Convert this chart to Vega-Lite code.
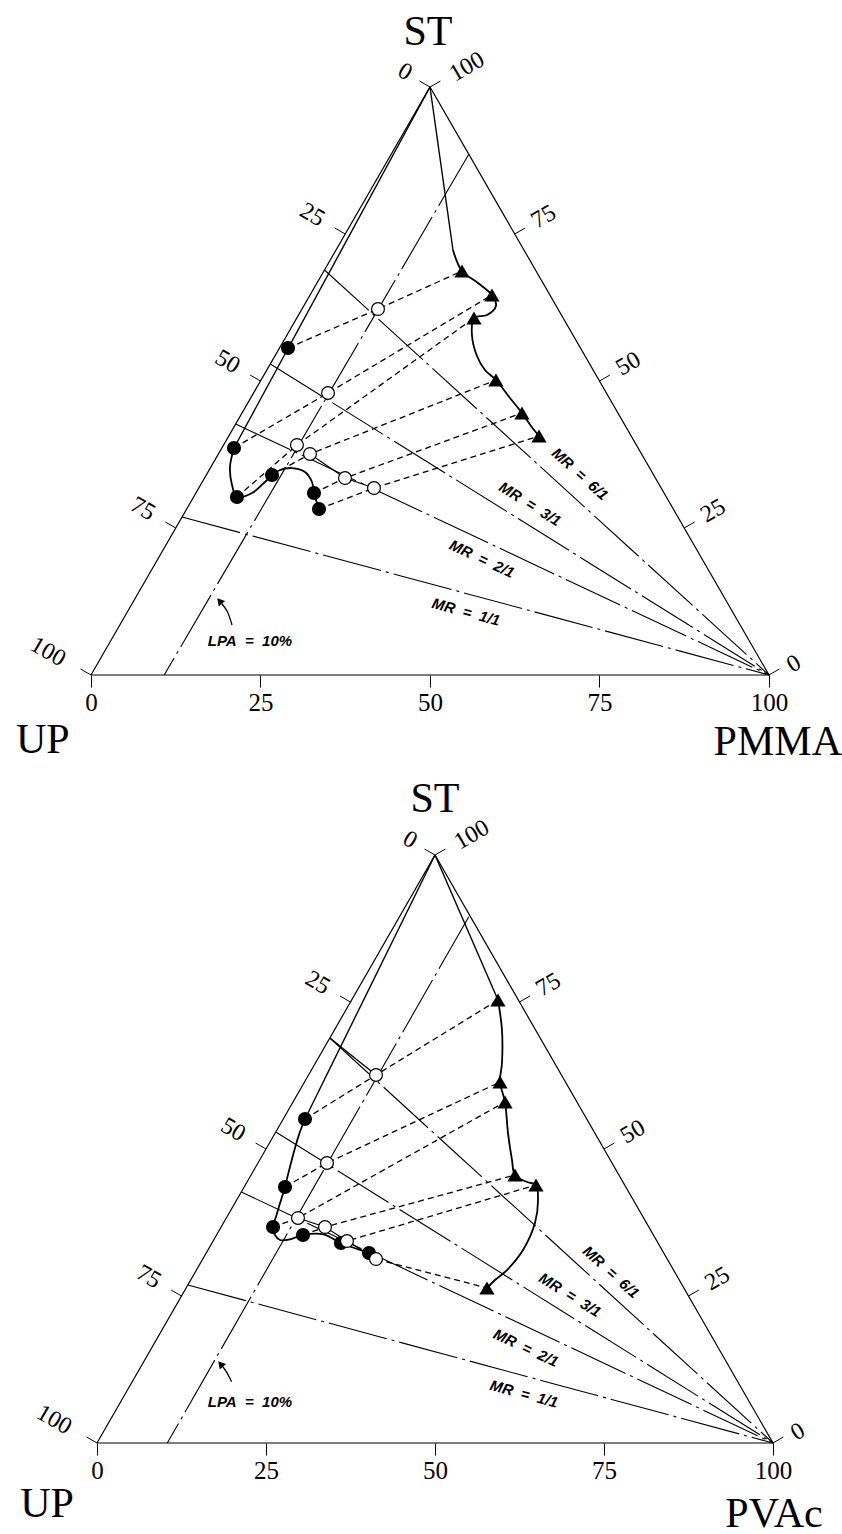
{
"$schema":"https://vega.github.io/schema/vega-lite/v6.json",
"padding":0,
"spacing":92,
"bounds":"flush",
"background":"white",
"config":{"view":{"stroke":null}},
"datasets":{
"top":[
{"kind":"outline","ord":1,"u":0,"v":0},{"kind":"outline","ord":2,"u":100,"v":0},{"kind":"outline","ord":3,"u":50,"v":100},{"kind":"outline","ord":4,"u":0,"v":0},
{"kind":"tick","u":50,"v":100,"u2":48.46,"v2":101.02},{"kind":"tick","u":37.5,"v":75,"u2":35.96,"v2":76.02},{"kind":"tick","u":25,"v":50,"u2":23.46,"v2":51.02},{"kind":"tick","u":12.5,"v":25,"u2":10.96,"v2":26.02},{"kind":"tick","u":0,"v":0,"u2":-1.54,"v2":1.02},
{"kind":"tick","u":100,"v":0,"u2":101.54,"v2":1.02},{"kind":"tick","u":87.5,"v":25,"u2":89.04,"v2":26.02},{"kind":"tick","u":75,"v":50,"u2":76.54,"v2":51.02},{"kind":"tick","u":62.5,"v":75,"u2":64.04,"v2":76.02},{"kind":"tick","u":50,"v":100,"u2":51.54,"v2":101.02},
{"kind":"ll","label":"0","u":46.3,"v":102.55},{"kind":"ll","label":"25","u":32.63,"v":78.23},{"kind":"ll","label":"50","u":20.13,"v":53.23},{"kind":"ll","label":"75","u":7.63,"v":28.23},{"kind":"ll","label":"100","u":-6.35,"v":3.91},
{"kind":"rl","label":"0","u":103.69,"v":1.87},{"kind":"rl","label":"25","u":91.78,"v":27.89},{"kind":"rl","label":"50","u":79.28,"v":52.89},{"kind":"rl","label":"75","u":66.78,"v":77.89},{"kind":"rl","label":"100","u":55.46,"v":103.4},
{"kind":"corner","label":"ST","u":49.7,"v":109.4},{"kind":"corner","label":"UP","u":-7.1,"v":-11.0},{"kind":"corner","label":"PMMA","u":101.3,"v":-11.4},
{"kind":"mr","u":34.44,"v":68.88,"u2":100,"v2":0},{"kind":"mr","u":26.45,"v":52.89,"u2":100,"v2":0},{"kind":"mr","u":21.34,"v":42.69,"u2":100,"v2":0},{"kind":"mr","u":13.44,"v":26.87,"u2":100,"v2":0},
{"kind":"lpa","u":55.75,"v":88.6,"u2":10.8,"v2":0},
{"kind":"segl","ord":1,"u":32.30,"v":37.59},{"kind":"segl","ord":2,"u":37.46,"v":33.50},{"kind":"segl","ord":3,"u":41.74,"v":31.80},
{"kind":"tie","id":1,"ord":1,"u":29.06,"v":55.61},{"kind":"tie","id":1,"ord":2,"u":42.33,"v":62.24},{"kind":"tie","id":1,"ord":3,"u":54.72,"v":68.71},
{"kind":"tie","id":2,"ord":1,"u":21.09,"v":38.61},{"kind":"tie","id":2,"ord":2,"u":34.96,"v":47.96},{"kind":"tie","id":2,"ord":3,"u":59.14,"v":64.63},
{"kind":"tie","id":3,"ord":1,"u":21.53,"v":30.27},{"kind":"tie","id":3,"ord":2,"u":30.38,"v":39.12},{"kind":"tie","id":3,"ord":3,"u":56.49,"v":60.71},
{"kind":"tie","id":4,"ord":1,"u":26.70,"v":34.01},{"kind":"tie","id":4,"ord":2,"u":32.30,"v":37.59},{"kind":"tie","id":4,"ord":3,"u":59.73,"v":50.17},
{"kind":"tie","id":5,"ord":1,"u":32.89,"v":30.95},{"kind":"tie","id":5,"ord":2,"u":37.46,"v":33.50},{"kind":"tie","id":5,"ord":3,"u":63.57,"v":44.56},
{"kind":"tie","id":6,"ord":1,"u":33.63,"v":28.23},{"kind":"tie","id":6,"ord":2,"u":41.74,"v":31.80},{"kind":"tie","id":6,"ord":3,"u":66.08,"v":40.65},
{"kind":"upline","u":50,"v":100,"u2":21.09,"v2":38.61},
{"kind":"upc","ord":1,"u":21.09,"v":38.61},{"kind":"upc","ord":2,"u":20.50,"v":35.37},{"kind":"upc","ord":3,"u":20.80,"v":32.31},{"kind":"upc","ord":4,"u":21.53,"v":30.27},{"kind":"upc","ord":5,"u":23.75,"v":30.95},{"kind":"upc","ord":6,"u":25.66,"v":32.82},{"kind":"upc","ord":7,"u":26.70,"v":34.01},{"kind":"upc","ord":8,"u":27.88,"v":34.86},{"kind":"upc","ord":9,"u":29.65,"v":35.20},{"kind":"upc","ord":10,"u":31.56,"v":34.52},{"kind":"upc","ord":11,"u":32.60,"v":32.82},{"kind":"upc","ord":12,"u":32.89,"v":30.95},{"kind":"upc","ord":13,"u":33.63,"v":28.23},
{"kind":"pmline","u":50,"v":100,"u2":53.39,"v2":72.28},
{"kind":"pmc","ord":1,"u":53.39,"v":72.28},{"kind":"pmc","ord":2,"u":54.72,"v":68.71},{"kind":"pmc","ord":3,"u":57.08,"v":66.67},{"kind":"pmc","ord":4,"u":59.14,"v":64.63},{"kind":"pmc","ord":5,"u":59.73,"v":62.76},{"kind":"pmc","ord":6,"u":58.41,"v":61.22},{"kind":"pmc","ord":7,"u":56.49,"v":60.71},{"kind":"pmc","ord":8,"u":56.19,"v":57.82},{"kind":"pmc","ord":9,"u":56.93,"v":54.25},{"kind":"pmc","ord":10,"u":58.11,"v":51.87},{"kind":"pmc","ord":11,"u":59.73,"v":50.17},{"kind":"pmc","ord":12,"u":61.80,"v":47.11},{"kind":"pmc","ord":13,"u":63.57,"v":44.56},{"kind":"pmc","ord":14,"u":64.90,"v":42.35},{"kind":"pmc","ord":15,"u":66.08,"v":40.65},
{"kind":"arr","ord":1,"u":20.80,"v":8.50},{"kind":"arr","ord":2,"u":20.06,"v":10.88},{"kind":"arr","ord":3,"u":18.97,"v":12.59},
{"kind":"ah","u":18.97,"v":12.59},
{"kind":"mr6l","label":"MR\u00a0 =\u00a0 6/1","u":72.12,"v":34.18},{"kind":"mr3l","label":"MR\u00a0 =\u00a0 3/1","u":64.75,"v":29.08},{"kind":"mr2l","label":"MR\u00a0 =\u00a0 2/1","u":57.67,"v":19.73},{"kind":"mr1l","label":"MR\u00a0 =\u00a0 1/1","u":55.31,"v":10.71},
{"kind":"lpal","label":"LPA\u00a0 =\u00a0 10%","u":23.45,"v":5.78}
],
"bot":[
{"kind":"outline","ord":1,"u":0,"v":0},{"kind":"outline","ord":2,"u":100,"v":0},{"kind":"outline","ord":3,"u":50,"v":100},{"kind":"outline","ord":4,"u":0,"v":0},
{"kind":"tick","u":50,"v":100,"u2":48.46,"v2":101.02},{"kind":"tick","u":37.5,"v":75,"u2":35.96,"v2":76.02},{"kind":"tick","u":25,"v":50,"u2":23.46,"v2":51.02},{"kind":"tick","u":12.5,"v":25,"u2":10.96,"v2":26.02},{"kind":"tick","u":0,"v":0,"u2":-1.54,"v2":1.02},
{"kind":"tick","u":100,"v":0,"u2":101.54,"v2":1.02},{"kind":"tick","u":87.5,"v":25,"u2":89.04,"v2":26.02},{"kind":"tick","u":75,"v":50,"u2":76.54,"v2":51.02},{"kind":"tick","u":62.5,"v":75,"u2":64.04,"v2":76.02},{"kind":"tick","u":50,"v":100,"u2":51.54,"v2":101.02},
{"kind":"ll","label":"0","u":46.3,"v":102.55},{"kind":"ll","label":"25","u":32.63,"v":78.23},{"kind":"ll","label":"50","u":20.13,"v":53.23},{"kind":"ll","label":"75","u":7.63,"v":28.23},{"kind":"ll","label":"100","u":-6.35,"v":3.91},
{"kind":"rl","label":"0","u":103.69,"v":1.87},{"kind":"rl","label":"25","u":91.78,"v":27.89},{"kind":"rl","label":"50","u":79.28,"v":52.89},{"kind":"rl","label":"75","u":66.78,"v":77.89},{"kind":"rl","label":"100","u":55.46,"v":103.4},
{"kind":"corner","label":"ST","u":50.0,"v":109.6},{"kind":"corner","label":"UP","u":-7.4,"v":-10.4},{"kind":"corner","label":"PVAc","u":100.15,"v":-12.0},
{"kind":"mr","u":34.44,"v":68.88,"u2":100,"v2":0},{"kind":"mr","u":26.45,"v":52.89,"u2":100,"v2":0},{"kind":"mr","u":21.34,"v":42.69,"u2":100,"v2":0},{"kind":"mr","u":13.44,"v":26.87,"u2":100,"v2":0},
{"kind":"lpa","u":55.0,"v":89.5,"u2":10.4,"v2":0},
{"kind":"seg","u":34.44,"v":68.88,"u2":41.27,"v2":62.59},
{"kind":"segl","ord":1,"u":29.73,"v":38.27},{"kind":"segl","ord":2,"u":33.73,"v":36.73},{"kind":"segl","ord":3,"u":36.98,"v":34.35},{"kind":"segl","ord":4,"u":41.27,"v":31.29},
{"kind":"tie","id":1,"ord":1,"u":30.77,"v":55.10},{"kind":"tie","id":1,"ord":2,"u":41.27,"v":62.59},{"kind":"tie","id":1,"ord":3,"u":59.32,"v":75.34},
{"kind":"tie","id":2,"ord":1,"u":27.81,"v":43.54},{"kind":"tie","id":2,"ord":2,"u":34.02,"v":47.62},{"kind":"tie","id":2,"ord":3,"u":59.62,"v":61.39},
{"kind":"tie","id":3,"ord":1,"u":26.04,"v":36.73},{"kind":"tie","id":3,"ord":2,"u":29.73,"v":38.27},{"kind":"tie","id":3,"ord":3,"u":60.36,"v":57.99},
{"kind":"tie","id":4,"ord":1,"u":30.47,"v":35.37},{"kind":"tie","id":4,"ord":2,"u":33.73,"v":36.73},{"kind":"tie","id":4,"ord":3,"u":61.83,"v":45.58},
{"kind":"tie","id":5,"ord":1,"u":36.09,"v":34.01},{"kind":"tie","id":5,"ord":2,"u":36.98,"v":34.35},{"kind":"tie","id":5,"ord":3,"u":64.94,"v":43.88},
{"kind":"tie","id":6,"ord":1,"u":40.24,"v":32.31},{"kind":"tie","id":6,"ord":2,"u":41.27,"v":31.29},{"kind":"tie","id":6,"ord":3,"u":57.69,"v":26.36},
{"kind":"upline","u":50,"v":100,"u2":30.77,"v2":55.10},
{"kind":"upc","ord":1,"u":30.77,"v":55.10},{"kind":"upc","ord":2,"u":29.78,"v":52.09},{"kind":"upc","ord":3,"u":28.30,"v":45.86},{"kind":"upc","ord":4,"u":27.81,"v":43.54},{"kind":"upc","ord":5,"u":27.07,"v":40.76},{"kind":"upc","ord":6,"u":26.48,"v":38.49},{"kind":"upc","ord":7,"u":26.04,"v":36.73},{"kind":"upc","ord":8,"u":26.33,"v":35.37},{"kind":"upc","ord":9,"u":27.07,"v":34.52},{"kind":"upc","ord":10,"u":28.55,"v":34.64},{"kind":"upc","ord":11,"u":30.47,"v":35.37},{"kind":"upc","ord":12,"u":33.48,"v":35.49},{"kind":"upc","ord":13,"u":36.09,"v":34.01},{"kind":"upc","ord":14,"u":40.24,"v":32.31},
{"kind":"pmline","u":50,"v":100,"u2":59.32,"v2":75.34},
{"kind":"pmc","ord":1,"u":59.32,"v":75.34},{"kind":"pmc","ord":2,"u":59.91,"v":70.24},{"kind":"pmc","ord":3,"u":59.91,"v":64.63},{"kind":"pmc","ord":4,"u":59.62,"v":61.39},{"kind":"pmc","ord":5,"u":60.36,"v":57.99},{"kind":"pmc","ord":6,"u":60.80,"v":52.72},{"kind":"pmc","ord":7,"u":61.39,"v":48.13},{"kind":"pmc","ord":8,"u":61.83,"v":45.58},{"kind":"pmc","ord":9,"u":63.61,"v":44.39},{"kind":"pmc","ord":10,"u":64.94,"v":43.88},{"kind":"pmc","ord":11,"u":65.24,"v":41.33},{"kind":"pmc","ord":12,"u":64.79,"v":37.41},{"kind":"pmc","ord":13,"u":63.02,"v":32.82},{"kind":"pmc","ord":14,"u":60.65,"v":29.42},{"kind":"pmc","ord":15,"u":58.88,"v":27.72},{"kind":"pmc","ord":16,"u":57.69,"v":26.36},
{"kind":"arr","ord":1,"u":19.91,"v":10.43},{"kind":"arr","ord":2,"u":19.08,"v":12.24},{"kind":"arr","ord":3,"u":18.28,"v":13.44},
{"kind":"ah","u":18.28,"v":13.44},
{"kind":"mr6l","label":"MR\u00a0 =\u00a0 6/1","u":76.04,"v":29.08},{"kind":"mr3l","label":"MR\u00a0 =\u00a0 3/1","u":69.97,"v":25.17},{"kind":"mr2l","label":"MR\u00a0 =\u00a0 2/1","u":63.46,"v":16.16},{"kind":"mr1l","label":"MR\u00a0 =\u00a0 1/1","u":63.17,"v":8.33},
{"kind":"lpal","label":"LPA\u00a0 =\u00a0 10%","u":22.63,"v":6.97}
]
},
"vconcat":[
{
"width":842,"height":675,
"data":{"name":"top"},
"encoding":{
"x":{"field":"u","type":"quantitative","scale":{"domain":[-13.42,110.77],"nice":false,"zero":false},"axis":{"values":[0,25,50,75,100],"domain":false,"grid":false,"tickSize":12,"tickColor":"black","tickWidth":1,"labelFont":"Liberation Serif","labelFontSize":25,"labelColor":"black","labelPadding":3,"labelOverlap":false,"labelFlush":false,"title":null}},
"y":{"field":"v","type":"quantitative","scale":{"domain":[0,114.8],"nice":false,"zero":false},"axis":null}
},
"layer":[
{"transform":[{"filter":"datum.kind==='outline'"}],"mark":{"type":"line","color":"black","strokeWidth":1.2},"encoding":{"order":{"field":"ord","type":"quantitative"}}},
{"transform":[{"filter":"datum.kind==='tick'"}],"mark":{"type":"rule","color":"black","strokeWidth":1},"encoding":{"x2":{"field":"u2"},"y2":{"field":"v2"}}},
{"transform":[{"filter":"datum.kind==='mr' || datum.kind==='lpa'"}],"mark":{"type":"rule","color":"black","strokeWidth":1.1,"strokeDash":[60,5,3,5]},"encoding":{"x2":{"field":"u2"},"y2":{"field":"v2"}}},
{"transform":[{"filter":"datum.kind==='seg' || datum.kind==='upline' || datum.kind==='pmline'"}],"mark":{"type":"rule","color":"black","strokeWidth":1.4},"encoding":{"x2":{"field":"u2"},"y2":{"field":"v2"}}},
{"transform":[{"filter":"datum.kind==='segl'"}],"mark":{"type":"line","color":"black","strokeWidth":1.1},"encoding":{"order":{"field":"ord","type":"quantitative"}}},
{"transform":[{"filter":"datum.kind==='tie'"}],"mark":{"type":"line","color":"black","strokeWidth":1.3,"strokeDash":[6,4]},"encoding":{"detail":{"field":"id","type":"nominal"},"order":{"field":"ord","type":"quantitative"}}},
{"transform":[{"filter":"datum.kind==='upc' || datum.kind==='pmc'"}],"mark":{"type":"line","color":"black","strokeWidth":1.8,"interpolate":"catmull-rom"},"encoding":{"detail":{"field":"kind","type":"nominal"},"order":{"field":"ord","type":"quantitative"}}},
{"transform":[{"filter":"datum.kind==='arr'"}],"mark":{"type":"line","color":"black","strokeWidth":1.3,"interpolate":"catmull-rom"},"encoding":{"order":{"field":"ord","type":"quantitative"}}},
{"transform":[{"filter":"datum.kind==='ah'"}],"mark":{"type":"point","shape":"triangle-up","filled":true,"color":"black","opacity":1,"size":70,"angle":-40}},
{"transform":[{"filter":"datum.kind==='tie' && datum.ord===1"}],"mark":{"type":"point","shape":"circle","filled":true,"color":"black","opacity":1,"size":200}},
{"transform":[{"filter":"datum.kind==='tie' && datum.ord===2"}],"mark":{"type":"point","shape":"circle","filled":true,"fill":"white","stroke":"black","strokeWidth":1.2,"opacity":1,"size":165}},
{"transform":[{"filter":"datum.kind==='tie' && datum.ord===3"}],"mark":{"type":"point","shape":"triangle-up","filled":true,"color":"black","opacity":1,"size":230}},
{"transform":[{"filter":"datum.kind==='ll'"}],"mark":{"type":"text","font":"Liberation Serif","fontSize":24,"angle":30,"align":"center","baseline":"middle","color":"black"},"encoding":{"text":{"field":"label","type":"nominal"}}},
{"transform":[{"filter":"datum.kind==='rl'"}],"mark":{"type":"text","font":"Liberation Serif","fontSize":24,"angle":-30,"align":"center","baseline":"middle","color":"black"},"encoding":{"text":{"field":"label","type":"nominal"}}},
{"transform":[{"filter":"datum.kind==='corner'"}],"mark":{"type":"text","font":"Liberation Serif","fontSize":42,"align":"center","baseline":"middle","color":"black"},"encoding":{"text":{"field":"label","type":"nominal"}}},
{"transform":[{"filter":"datum.kind==='mr6l'"}],"mark":{"type":"text","font":"Liberation Sans","fontSize":15,"fontWeight":"bold","fontStyle":"italic","angle":42,"align":"center","baseline":"middle","color":"black"},"encoding":{"text":{"field":"label","type":"nominal"}}},
{"transform":[{"filter":"datum.kind==='mr3l'"}],"mark":{"type":"text","font":"Liberation Sans","fontSize":15,"fontWeight":"bold","fontStyle":"italic","angle":32,"align":"center","baseline":"middle","color":"black"},"encoding":{"text":{"field":"label","type":"nominal"}}},
{"transform":[{"filter":"datum.kind==='mr2l'"}],"mark":{"type":"text","font":"Liberation Sans","fontSize":15,"fontWeight":"bold","fontStyle":"italic","angle":25,"align":"center","baseline":"middle","color":"black"},"encoding":{"text":{"field":"label","type":"nominal"}}},
{"transform":[{"filter":"datum.kind==='mr1l'"}],"mark":{"type":"text","font":"Liberation Sans","fontSize":15,"fontWeight":"bold","fontStyle":"italic","angle":15,"align":"center","baseline":"middle","color":"black"},"encoding":{"text":{"field":"label","type":"nominal"}}},
{"transform":[{"filter":"datum.kind==='lpal'"}],"mark":{"type":"text","font":"Liberation Sans","fontSize":15,"fontWeight":"bold","fontStyle":"italic","align":"center","baseline":"middle","color":"black"},"encoding":{"text":{"field":"label","type":"nominal"}}}
]
},
{
"width":842,"height":676,
"data":{"name":"bot"},
"encoding":{
"x":{"field":"u","type":"quantitative","scale":{"domain":[-14.35,110.21],"nice":false,"zero":false},"axis":{"values":[0,25,50,75,100],"domain":false,"grid":false,"tickSize":12,"tickColor":"black","tickWidth":1,"labelFont":"Liberation Serif","labelFontSize":25,"labelColor":"black","labelPadding":3,"labelOverlap":false,"labelFlush":false,"title":null}},
"y":{"field":"v","type":"quantitative","scale":{"domain":[0,114.97],"nice":false,"zero":false},"axis":null}
},
"layer":[
{"transform":[{"filter":"datum.kind==='outline'"}],"mark":{"type":"line","color":"black","strokeWidth":1.2},"encoding":{"order":{"field":"ord","type":"quantitative"}}},
{"transform":[{"filter":"datum.kind==='tick'"}],"mark":{"type":"rule","color":"black","strokeWidth":1},"encoding":{"x2":{"field":"u2"},"y2":{"field":"v2"}}},
{"transform":[{"filter":"datum.kind==='mr' || datum.kind==='lpa'"}],"mark":{"type":"rule","color":"black","strokeWidth":1.1,"strokeDash":[60,5,3,5]},"encoding":{"x2":{"field":"u2"},"y2":{"field":"v2"}}},
{"transform":[{"filter":"datum.kind==='seg' || datum.kind==='upline' || datum.kind==='pmline'"}],"mark":{"type":"rule","color":"black","strokeWidth":1.4},"encoding":{"x2":{"field":"u2"},"y2":{"field":"v2"}}},
{"transform":[{"filter":"datum.kind==='segl'"}],"mark":{"type":"line","color":"black","strokeWidth":1.1},"encoding":{"order":{"field":"ord","type":"quantitative"}}},
{"transform":[{"filter":"datum.kind==='tie'"}],"mark":{"type":"line","color":"black","strokeWidth":1.3,"strokeDash":[6,4]},"encoding":{"detail":{"field":"id","type":"nominal"},"order":{"field":"ord","type":"quantitative"}}},
{"transform":[{"filter":"datum.kind==='upc' || datum.kind==='pmc'"}],"mark":{"type":"line","color":"black","strokeWidth":1.8,"interpolate":"catmull-rom"},"encoding":{"detail":{"field":"kind","type":"nominal"},"order":{"field":"ord","type":"quantitative"}}},
{"transform":[{"filter":"datum.kind==='arr'"}],"mark":{"type":"line","color":"black","strokeWidth":1.3,"interpolate":"catmull-rom"},"encoding":{"order":{"field":"ord","type":"quantitative"}}},
{"transform":[{"filter":"datum.kind==='ah'"}],"mark":{"type":"point","shape":"triangle-up","filled":true,"color":"black","opacity":1,"size":70,"angle":-40}},
{"transform":[{"filter":"datum.kind==='tie' && datum.ord===1"}],"mark":{"type":"point","shape":"circle","filled":true,"color":"black","opacity":1,"size":200}},
{"transform":[{"filter":"datum.kind==='tie' && datum.ord===2"}],"mark":{"type":"point","shape":"circle","filled":true,"fill":"white","stroke":"black","strokeWidth":1.2,"opacity":1,"size":165}},
{"transform":[{"filter":"datum.kind==='tie' && datum.ord===3"}],"mark":{"type":"point","shape":"triangle-up","filled":true,"color":"black","opacity":1,"size":230}},
{"transform":[{"filter":"datum.kind==='ll'"}],"mark":{"type":"text","font":"Liberation Serif","fontSize":24,"angle":30,"align":"center","baseline":"middle","color":"black"},"encoding":{"text":{"field":"label","type":"nominal"}}},
{"transform":[{"filter":"datum.kind==='rl'"}],"mark":{"type":"text","font":"Liberation Serif","fontSize":24,"angle":-30,"align":"center","baseline":"middle","color":"black"},"encoding":{"text":{"field":"label","type":"nominal"}}},
{"transform":[{"filter":"datum.kind==='corner'"}],"mark":{"type":"text","font":"Liberation Serif","fontSize":42,"align":"center","baseline":"middle","color":"black"},"encoding":{"text":{"field":"label","type":"nominal"}}},
{"transform":[{"filter":"datum.kind==='mr6l'"}],"mark":{"type":"text","font":"Liberation Sans","fontSize":15,"fontWeight":"bold","fontStyle":"italic","angle":42,"align":"center","baseline":"middle","color":"black"},"encoding":{"text":{"field":"label","type":"nominal"}}},
{"transform":[{"filter":"datum.kind==='mr3l'"}],"mark":{"type":"text","font":"Liberation Sans","fontSize":15,"fontWeight":"bold","fontStyle":"italic","angle":32,"align":"center","baseline":"middle","color":"black"},"encoding":{"text":{"field":"label","type":"nominal"}}},
{"transform":[{"filter":"datum.kind==='mr2l'"}],"mark":{"type":"text","font":"Liberation Sans","fontSize":15,"fontWeight":"bold","fontStyle":"italic","angle":25,"align":"center","baseline":"middle","color":"black"},"encoding":{"text":{"field":"label","type":"nominal"}}},
{"transform":[{"filter":"datum.kind==='mr1l'"}],"mark":{"type":"text","font":"Liberation Sans","fontSize":15,"fontWeight":"bold","fontStyle":"italic","angle":15,"align":"center","baseline":"middle","color":"black"},"encoding":{"text":{"field":"label","type":"nominal"}}},
{"transform":[{"filter":"datum.kind==='lpal'"}],"mark":{"type":"text","font":"Liberation Sans","fontSize":15,"fontWeight":"bold","fontStyle":"italic","align":"center","baseline":"middle","color":"black"},"encoding":{"text":{"field":"label","type":"nominal"}}}
]
}
]
}
